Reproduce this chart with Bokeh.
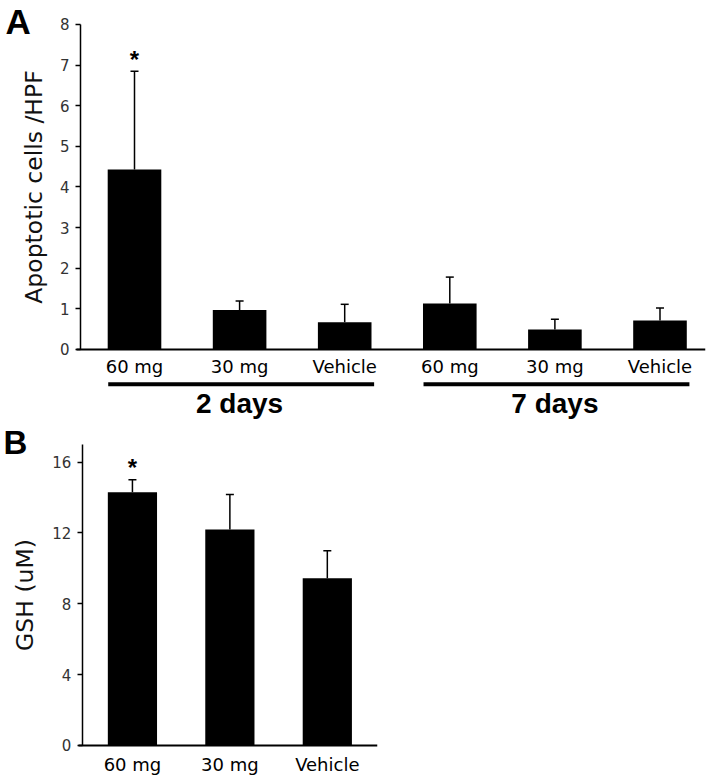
from bokeh.plotting import figure
from bokeh.models import (Range1d, FixedTicker, Whisker, TeeHead, ColumnDataSource)
from bokeh.layouts import column
from bokeh.core.properties import value
from bokeh.embed import file_html
from bokeh.resources import INLINE

# ---------------- data ----------------
categories_a = ["60 mg", "30 mg", "Vehicle", "60 mg", "30 mg", "Vehicle"]
group_names_a = ["2 days", "7 days"]
group_members_a = [[0, 1, 2], [3, 4, 5]]
apoptotic_mean = [4.43, 0.97, 0.67, 1.13, 0.49, 0.71]
apoptotic_err = [2.42, 0.22, 0.44, 0.65, 0.25, 0.31]
sig_a = ["*", "", "", "", "", ""]
y_ticks_a = [0, 1, 2, 3, 4, 5, 6, 7, 8]

categories_b = ["60 mg", "30 mg", "Vehicle"]
gsh_mean = [14.3, 12.2, 9.45]
gsh_err = [0.7, 1.98, 1.55]
sig_b = ["*", "", ""]
y_ticks_b = [0, 4, 8, 12, 16]

panel_letters = ["A", "B"]

FONT = "DejaVu Sans"
BOLD = "Liberation Sans"


def style_common(p):
    p.xgrid.grid_line_color = None
    p.ygrid.grid_line_color = None
    p.outline_line_color = None
    p.background_fill_color = "white"
    p.border_fill_color = "white"


def style_yaxis(ax, label, ticks, bounds, standoff, loc):
    ax.fixed_location = loc
    ax.ticker = FixedTicker(ticks=ticks)
    ax.bounds = bounds
    ax.axis_label = label
    ax.axis_label_text_font = FONT
    ax.axis_label_text_font_size = "23.5px"
    ax.axis_label_text_font_style = "normal"
    ax.axis_label_text_color = "#111111"
    ax.axis_label_standoff = standoff
    ax.major_label_text_font = FONT
    ax.major_label_text_font_size = "15px"
    ax.major_label_text_color = "#333333"
    ax.major_label_standoff = 6
    ax.major_tick_out = 5
    ax.major_tick_in = 0
    ax.major_tick_line_width = 1.5
    ax.minor_tick_line_color = None
    ax.axis_line_width = 1.5
    ax.axis_line_color = "black"


def style_xaxis(ax, labels, standoff, bounds):
    n = len(labels)
    ax.fixed_location = 0
    ax.ticker = FixedTicker(ticks=list(range(n)))
    ax.major_label_overrides = {i: labels[i] for i in range(n)}
    ax.bounds = bounds
    ax.major_label_text_font = FONT
    ax.major_label_text_font_size = "18px"
    ax.major_label_text_color = "black"
    ax.major_label_standoff = standoff
    ax.major_tick_line_color = None
    ax.major_tick_out = 0
    ax.minor_tick_line_color = None
    ax.axis_line_width = 2
    ax.axis_line_color = "black"


def add_bars(p, means, errs, sig, width):
    idx = list(range(len(means)))
    upper = [m + e for m, e in zip(means, errs)]
    src = ColumnDataSource(dict(x=idx, top=means, upper=upper, sig=sig))
    p.vbar(x="x", top="top", width=width, source=src, fill_color="black", line_color=None)
    p.add_layout(Whisker(base="x", lower="top", upper="upper", source=src, dimension="height",
                         line_width=1.5, line_color="black",
                         upper_head=TeeHead(size=8, line_width=1.5, line_color="black"),
                         lower_head=None))
    p.text(x="x", y="upper", text="sig", source=src, text_font=value(BOLD),
           text_font_style="bold", text_font_size="24px", text_align="center",
           text_baseline="alphabetic", y_offset=-12, text_color="black")


# ---------------- panel A ----------------
n_a = len(categories_a)
pA = figure(width=711, height=422, output_backend="svg", toolbar_location=None,
            x_range=Range1d(-1.275, n_a - 1 + 0.433), y_range=Range1d(-1.80, 8.59),
            min_border_left=0, min_border_right=6, min_border_top=0, min_border_bottom=0)
style_common(pA)
style_yaxis(pA.yaxis[0], "Apoptotic cells /HPF", y_ticks_a, (0, 8), 9, -0.514)
style_xaxis(pA.xaxis[0], categories_a, 7, (-0.55, n_a - 1 + 0.433))
add_bars(pA, apoptotic_mean, apoptotic_err, sig_a, 0.51)

# group lines and labels
g_x0 = [min(m) - 0.25 for m in group_members_a]
g_x1 = [max(m) + 0.28 for m in group_members_a]
g_xc = [sum(m) / len(m) for m in group_members_a]
pA.segment(x0=g_x0, x1=g_x1, y0=[-0.86] * 2, y1=[-0.86] * 2, line_width=4, line_color="black")
pA.text(x=g_xc, y=[-1.33] * 2, text=group_names_a, text_font=value(BOLD),
        text_font_style="bold", text_font_size="28px", text_align="center",
        text_baseline="alphabetic", text_color="black")

pA.text(x=[-1.227], y=[8.56], text=[panel_letters[0]], text_font=value(BOLD),
        text_font_style="bold", text_font_size="35px", text_align="left",
        text_baseline="top", text_color="black")

# ---------------- panel B ----------------
n_b = len(categories_b)
pB = figure(width=383, height=360, output_backend="svg", toolbar_location=None,
            x_range=Range1d(-1.354, n_b - 1 + 0.515), y_range=Range1d(-2.09, 18.24),
            min_border_left=0, min_border_right=0, min_border_top=0, min_border_bottom=0)
style_common(pB)
style_yaxis(pB.yaxis[0], "GSH (uM)", y_ticks_b, (0, 17), 10, -0.515)
style_xaxis(pB.xaxis[0], categories_b, 9, (-0.556, n_b - 1 + 0.515))
add_bars(pB, gsh_mean, gsh_err, sig_b, 0.505)

pB.text(x=[-1.323], y=[18.16], text=[panel_letters[1]], text_font=value(BOLD),
        text_font_style="bold", text_font_size="33px", text_align="left",
        text_baseline="top", text_color="black")

layout = column(pA, pB, spacing=0)
open("out.html", "w").write(file_html(layout, INLINE))
